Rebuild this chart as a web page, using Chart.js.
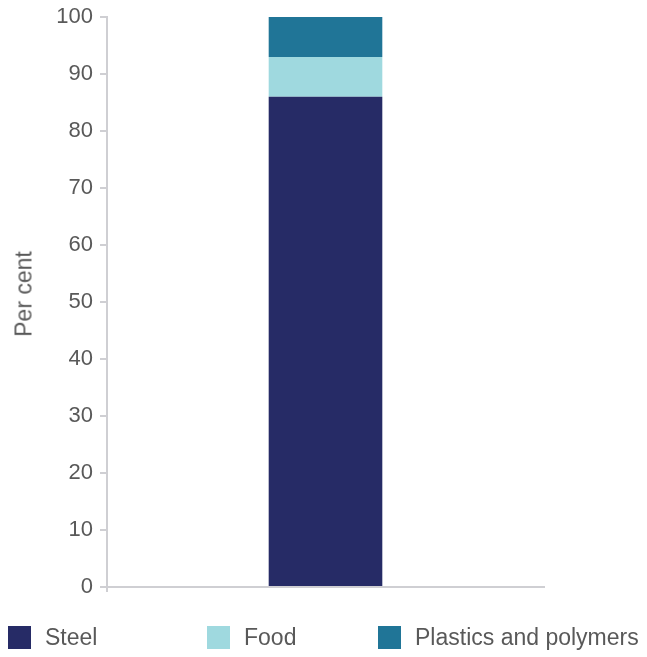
<!DOCTYPE html>
<html>
<head>
<meta charset="utf-8">
<script src="https://cdn.jsdelivr.net/npm/chart.js@4.4.1/dist/chart.umd.min.js"></script>
<style>
  html, body { margin: 0; padding: 0; background: #ffffff; }
  #wrap { position: relative; width: 647px; height: 657px; }
  #c { position: absolute; left: 0; top: 0; }
  .lg { position: absolute; top: 626px; height: 23px; display: flex; align-items: center;
        font-family: "Liberation Sans", Arial, sans-serif; font-size: 23px; color: #595959; white-space: nowrap; }
  .lg span.box { display: inline-block; width: 23px; height: 23px; margin-right: 14px; }
  #ytitle { position: absolute; left: 24px; top: 294px; transform: translate(-50%, -50%) rotate(-90deg);
        font-family: "Liberation Sans", Arial, sans-serif; font-size: 23px; line-height: 1; color: #595959; white-space: nowrap; }
</style>
</head>
<body>
<div id="wrap">
  <canvas id="c" width="647" height="657"></canvas>
  <div id="ytitle"></div>
</div>
<script>
const categories = [""];
const seriesNames = ["Steel", "Food", "Plastics and polymers"];
const steel = [86];
const food = [7];
const plastics = [7];
const yTicks = [0, 10, 20, 30, 40, 50, 60, 70, 80, 90, 100];
const yTitle = "Per cent";

const colors = ["#262b66", "#9fd9df", "#207597"];
const legendLeft = [8, 207, 378];
const FONT = '"Liberation Sans", Arial, sans-serif';
const axisColor = "#cfcfd3";
const textColor = "#595959";

const seriesValues = [steel, food, plastics];
const datasets = seriesNames.map((name, i) => ({
  label: name,
  data: seriesValues[i],
  backgroundColor: colors[i],
  borderWidth: 0,
  barPercentage: 0.26,
  categoryPercentage: 1.0
}));

new Chart(document.getElementById('c'), {
  type: 'bar',
  data: { labels: categories, datasets: datasets },
  options: {
    responsive: false,
    animation: false,
    layout: { padding: { left: 0, right: 103, top: 17, bottom: 65 } },
    plugins: { legend: { display: false }, tooltip: { enabled: false } },
    scales: {
      x: {
        stacked: true,
        afterFit: (axis) => { axis.height = 5; axis.paddingLeft = 0; axis.paddingRight = 0; },
        ticks: { display: false },
        grid: {
          display: true, drawOnChartArea: false, drawTicks: true, tickLength: 5, offset: true, lineWidth: 2,
          color: (ctx) => (ctx.index === 0 ? axisColor : 'rgba(0,0,0,0)')
        },
        border: { display: true, color: axisColor, width: 2 }
      },
      y: {
        stacked: true,
        min: 0, max: 100,
        afterBuildTicks: (axis) => { axis.ticks = yTicks.map(v => ({ value: v })); },
        afterFit: (axis) => { axis.width = 107; axis.paddingTop = 0; axis.paddingBottom = 0; },
        ticks: { font: { family: FONT, size: 22 }, color: textColor, padding: 7 },
        grid: { display: true, drawOnChartArea: false, drawTicks: true, tickLength: 7, color: axisColor, lineWidth: 2 },
        border: { display: true, color: axisColor, width: 2 },
        title: { display: false }
      }
    }
  }
});

document.getElementById('ytitle').textContent = yTitle;
const wrap = document.getElementById('wrap');
seriesNames.forEach((name, i) => {
  const d = document.createElement('div');
  d.className = 'lg';
  d.style.left = legendLeft[i] + 'px';
  const b = document.createElement('span');
  b.className = 'box';
  b.style.background = colors[i];
  d.appendChild(b);
  d.appendChild(document.createTextNode(name));
  wrap.appendChild(d);
});
</script>
</body>
</html>
